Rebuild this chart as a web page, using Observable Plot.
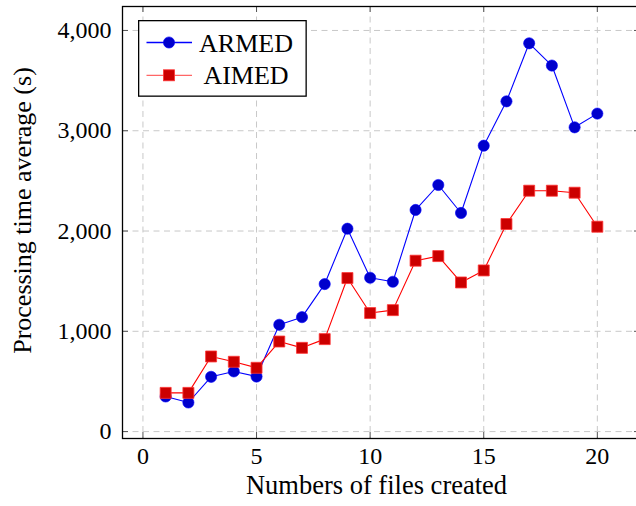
<!DOCTYPE html>
<html>
<head>
<meta charset="utf-8">
<script src="https://cdn.jsdelivr.net/npm/d3@7"></script>
<script src="https://cdn.jsdelivr.net/npm/@observablehq/plot@0.6"></script>
<style>
  html, body { margin: 0; padding: 0; overflow: hidden; background: #fff; width: 636px; height: 506px; }
  #wrap { position: relative; width: 640px; height: 506px; }
  #legend { position: absolute; left: 138px; top: 20px; }
  svg text { font-family: "Liberation Serif", "DejaVu Serif", serif; }
</style>
</head>
<body>
<div id="wrap"><div id="chart"></div><div id="legend"></div></div>
<script>
const files = [1,2,3,4,5,6,7,8,9,10,11,12,13,14,15,16,17,18,19,20];
const armed = [350,290,546,600,549,1065,1141,1471,2023,1534,1494,2210,2459,2180,2851,3293,3872,3650,3034,3171];
const aimed = [386,386,749,696,636,898,835,922,1531,1182,1211,1704,1750,1487,1607,2070,2402,2402,2382,2043];
const seriesNames = ["ARMED", "AIMED"];
const xTicks = [0,5,10,15,20];
const yTicks = [0,1000,2000,3000,4000];
const xLabel = "Numbers of files created";
const yLabel = "Processing time average (s)";

const colors = {ARMED: {line: "#0000ff", fill: "#0000cc"}, AIMED: {line: "#ff0000", fill: "#cc0000"}};
const rowsA = files.map((f, i) => ({x: f, y: armed[i], s: "ARMED"}));
const rowsB = files.map((f, i) => ({x: f, y: aimed[i], s: "AIMED"}));

const W = 640, H = 506, mL = 122, mR = 0, mT = 6, mB = 68;
const innerW = W - mL - mR, innerH = H - mT - mB;
const tick = 6;
const font = "Liberation Serif, DejaVu Serif, serif";

const chart = Plot.plot({
  width: W, height: H,
  marginLeft: mL, marginRight: mR, marginTop: mT, marginBottom: mB,
  style: {fontFamily: font, fontSize: "24px", background: "white", color: "black"},
  x: {domain: [-0.9, 21.9], axis: null},
  y: {domain: [-69, 4239], axis: null},
  marks: [
    Plot.gridX(xTicks, {stroke: "#c8c8c8", strokeOpacity: 1, strokeWidth: 1, strokeDasharray: "6,4.5"}),
    Plot.gridY(yTicks, {stroke: "#c8c8c8", strokeOpacity: 1, strokeWidth: 1, strokeDasharray: "6,4.5"}),
    // inward ticks on all sides
    Plot.ruleX(xTicks, {insetTop: innerH - tick, stroke: "#555", strokeWidth: 1}),
    Plot.ruleX(xTicks, {insetBottom: innerH - tick, stroke: "#555", strokeWidth: 1}),
    Plot.ruleY(yTicks, {insetRight: innerW - tick, stroke: "#555", strokeWidth: 1}),
    Plot.ruleY(yTicks, {insetLeft: innerW - tick, stroke: "#555", strokeWidth: 1}),
    Plot.axisX(xTicks, {tickSize: 0, tickPadding: 8, fontSize: 24, fontFamily: font, label: null}),
    Plot.axisY(yTicks, {tickSize: 0, tickPadding: 11, fontSize: 24, fontFamily: font, label: null, tickFormat: d3.format(",")}),
    Plot.line(rowsA, {x: "x", y: "y", stroke: colors.ARMED.line, strokeWidth: 1.1}),
    Plot.line(rowsB, {x: "x", y: "y", stroke: colors.AIMED.line, strokeWidth: 1.1}),
    Plot.dot(rowsA, {x: "x", y: "y", symbol: "circle", r: 5.6, fill: colors.ARMED.fill, stroke: colors.ARMED.line, strokeWidth: 0.6}),
    Plot.dot(rowsB, {x: "x", y: "y", symbol: "square", r: 6.2, fill: colors.AIMED.fill, stroke: "#ff3333", strokeWidth: 0.8}),
    Plot.frame({stroke: "black", strokeWidth: 1.3}),
    Plot.text([xLabel], {frameAnchor: "bottom", dy: 55, dx: -5, fontSize: 26.5, fontFamily: font, fill: "black"}),
    Plot.text([yLabel], {frameAnchor: "left", textAnchor: "middle", rotate: -90, dx: -100, dy: -12, fontSize: 26, fontFamily: font, fill: "black"})
  ]
});
document.getElementById("chart").appendChild(chart);

// legend
const lg = d3.select("#legend").append("svg").attr("width", 169).attr("height", 77);
lg.append("rect").attr("x", 0.65).attr("y", 0.65).attr("width", 167.5).attr("height", 75.5)
  .attr("fill", "white").attr("stroke", "black").attr("stroke-width", 1.3);
seriesNames.forEach((name, i) => {
  const cy = 22.5 + i * 32.8;
  const c = colors[name];
  lg.append("line").attr("x1", 8.5).attr("x2", 54).attr("y1", cy).attr("y2", cy)
    .attr("stroke", name === "AIMED" ? "#ff6666" : c.line).attr("stroke-width", 1.3);
  if (name === "ARMED") {
    lg.append("circle").attr("cx", 31).attr("cy", cy).attr("r", 5.6).attr("fill", c.fill).attr("stroke", c.line).attr("stroke-width", 0.6);
  } else {
    lg.append("rect").attr("x", 31 - 5.5).attr("y", cy - 5.5).attr("width", 11).attr("height", 11).attr("fill", c.fill).attr("stroke", "#ff3333").attr("stroke-width", 0.8);
  }
  lg.append("text").attr("x", 108).attr("y", cy).attr("dy", "0.35em").attr("text-anchor", "middle")
    .attr("font-size", 26).attr("font-family", font).attr("fill", "black").text(name);
});
</script>
</body>
</html>
